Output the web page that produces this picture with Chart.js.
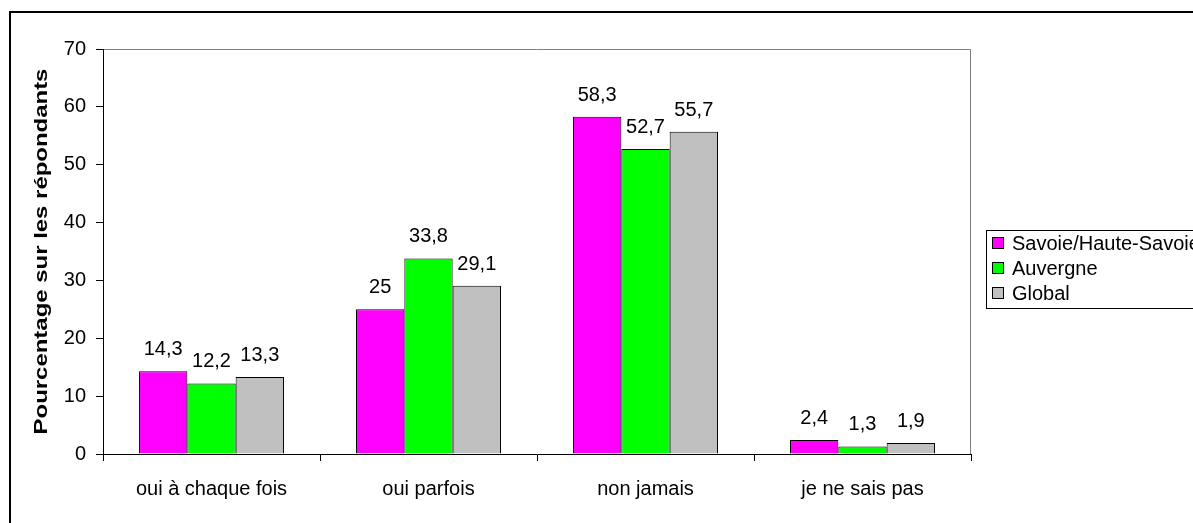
<!DOCTYPE html>
<html>
<head>
<meta charset="utf-8">
<script src="https://cdn.jsdelivr.net/npm/chart.js@4.4.0/dist/chart.umd.min.js"></script>
<style>
  body { margin: 0; background: #fff; }
  #wrap { width: 1193px; height: 523px; }
</style>
</head>
<body>
<div id="wrap"><canvas id="myChart" width="1193" height="523"></canvas></div>
<script>
// data
const categories = ['oui à chaque fois', 'oui parfois', 'non jamais', 'je ne sais pas'];
const savoie = [14.3, 25, 58.3, 2.4];
const auvergne = [12.2, 33.8, 52.7, 1.3];
const global = [13.3, 29.1, 55.7, 1.9];
const seriesNames = ['Savoie/Haute-Savoie', 'Auvergne', 'Global'];
const yTicks = [0, 10, 20, 30, 40, 50, 60, 70];
const yTitle = 'Pourcentage sur les répondants';

const FONT = '"Liberation Sans", Arial, sans-serif';

// frame, plot border, axis title, value labels, legend box
const extras = {
    id: 'extras',
    beforeDraw(chart) {
        const c = chart.ctx;
        c.save();
        c.fillStyle = '#fff';
        c.fillRect(0, 0, chart.width, chart.height);
        c.strokeStyle = '#000';
        c.lineWidth = 2;
        c.strokeRect(10, 12, 1400, 700);
        const a = chart.chartArea;
        c.strokeStyle = '#808080';
        c.lineWidth = 1;
        c.beginPath();
        c.moveTo(a.left, a.top + 0.5);
        c.lineTo(a.right - 0.5, a.top + 0.5);
        c.lineTo(a.right - 0.5, a.bottom);
        c.stroke();
        // y axis title (stretched along its length like the original)
        c.translate(42, (a.top + a.bottom) / 2);
        c.rotate(-Math.PI / 2);
        c.scale(1.33, 1);
        c.font = 'bold 18px ' + FONT;
        c.fillStyle = '#000';
        c.textAlign = 'center';
        c.textBaseline = 'middle';
        c.fillText(yTitle, 0, 0);
        c.restore();
    },
    afterDatasetsDraw(chart) {
        const c = chart.ctx;
        c.save();
        c.font = '20px ' + FONT;
        c.fillStyle = '#000';
        c.textAlign = 'center';
        c.textBaseline = 'alphabetic';
        chart.data.datasets.forEach((ds, i) => {
            chart.getDatasetMeta(i).data.forEach((bar, j) => {
                const txt = String(ds.data[j]).replace('.', ',');
                c.fillText(txt, bar.x, bar.y - 16);
            });
        });
        // legend
        const lx = 986, ly = 230;
        c.strokeStyle = '#000';
        c.lineWidth = 1;
        c.strokeRect(lx + 0.5, ly + 0.5, 300, 78);
        c.textAlign = 'left';
        c.textBaseline = 'middle';
        c.font = '20px ' + FONT;
        chart.data.datasets.forEach((ds, i) => {
            const y = ly + 13 + i * 25;
            c.fillStyle = ds.backgroundColor;
            c.fillRect(lx + 6.5, y - 5.5, 11, 11);
            c.strokeRect(lx + 6.5, y - 5.5, 11, 11);
            c.fillStyle = '#000';
            c.fillText(ds.label, lx + 26, y + 1);
        });
        c.restore();
    }
};

const ctx = document.getElementById('myChart').getContext('2d');
const myChart = new Chart(ctx, {
    type: 'bar',
    data: {
        labels: categories,
        datasets: [{
            label: seriesNames[0],
            data: savoie,
            backgroundColor: '#ff00ff',
            borderColor: '#000',
            borderWidth: 1
        }, {
            label: seriesNames[1],
            data: auvergne,
            backgroundColor: '#00ff00',
            borderColor: '#000',
            borderWidth: 1
        }, {
            label: seriesNames[2],
            data: global,
            backgroundColor: '#c0c0c0',
            borderColor: '#000',
            borderWidth: 1
        }]
    },
    options: {
        responsive: false,
        animation: false,
        layout: { padding: { left: 0, top: 49, right: 222, bottom: 0 } },
        categoryPercentage: 0.668,
        barPercentage: 1,
        plugins: {
            legend: { display: false },
            tooltip: { enabled: false }
        },
        scales: {
            x: {
                grid: { display: true, drawOnChartArea: false, offset: true, tickLength: 7, color: '#000' },
                border: { display: true, color: '#000', width: 1 },
                ticks: { color: '#000', font: { family: FONT, size: 20 }, padding: 16, maxRotation: 0 },
                afterFit(scale) { scale.height = 69; }
            },
            y: {
                min: 0,
                max: 70,
                afterBuildTicks(scale) { scale.ticks = yTicks.map(v => ({ value: v })); },
                grid: { display: true, drawOnChartArea: false, tickLength: 7, color: '#000' },
                border: { display: true, color: '#000', width: 1 },
                ticks: { color: '#000', font: { family: FONT, size: 20 }, padding: 10 },
                afterFit(scale) { scale.width = 103; }
            }
        }
    },
    plugins: [extras]
});
</script>
</body>
</html>
